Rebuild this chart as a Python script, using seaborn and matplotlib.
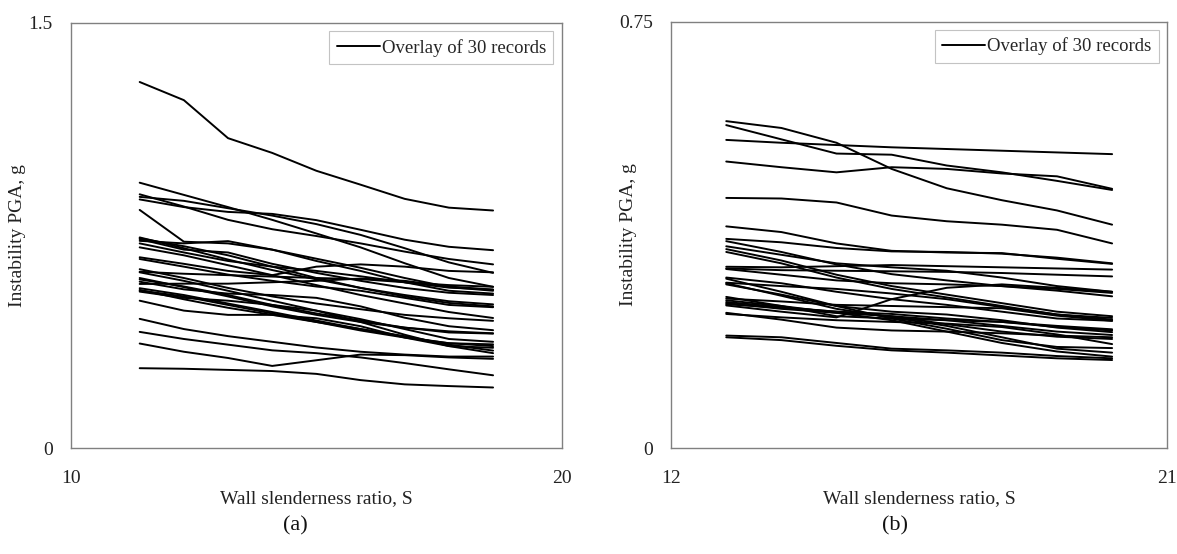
import numpy as np
import pandas as pd
import matplotlib
matplotlib.use("Agg")
import matplotlib.pyplot as plt
from matplotlib.lines import Line2D
import seaborn as sns

# ---------------- data ----------------
s_left = [11.4, 12.3, 13.2, 14.1, 15.0, 15.9, 16.8, 17.7, 18.6]
pga_left = [
    [1.291, 1.227, 1.093, 1.041, 0.978, 0.929, 0.879, 0.848, 0.838],
    [0.936, 0.893, 0.850, 0.805, 0.757, 0.708, 0.652, 0.600, 0.569],
    [0.895, 0.852, 0.805, 0.772, 0.748, 0.722, 0.693, 0.667, 0.648],
    [0.886, 0.872, 0.846, 0.820, 0.790, 0.752, 0.705, 0.655, 0.618],
    [0.877, 0.850, 0.833, 0.826, 0.804, 0.770, 0.735, 0.710, 0.698],
    [0.840, 0.728, 0.722, 0.700, 0.668, 0.636, 0.600, 0.568, 0.555],
    [0.743, 0.705, 0.665, 0.628, 0.595, 0.565, 0.540, 0.518, 0.507],
    [0.737, 0.700, 0.690, 0.650, 0.618, 0.590, 0.565, 0.548, 0.540],
    [0.731, 0.722, 0.730, 0.700, 0.660, 0.625, 0.585, 0.555, 0.545],
    [0.722, 0.690, 0.660, 0.640, 0.625, 0.606, 0.585, 0.566, 0.559],
    [0.708, 0.680, 0.645, 0.610, 0.575, 0.540, 0.510, 0.480, 0.459],
    [0.673, 0.650, 0.625, 0.610, 0.640, 0.648, 0.640, 0.625, 0.620],
    [0.667, 0.640, 0.612, 0.590, 0.570, 0.555, 0.530, 0.505, 0.497],
    [0.631, 0.600, 0.565, 0.535, 0.510, 0.490, 0.470, 0.458, 0.449],
    [0.622, 0.615, 0.610, 0.605, 0.600, 0.596, 0.585, 0.575, 0.569],
    [0.595, 0.570, 0.540, 0.505, 0.475, 0.450, 0.425, 0.408, 0.404],
    [0.587, 0.560, 0.545, 0.540, 0.530, 0.500, 0.460, 0.430, 0.416],
    [0.579, 0.580, 0.580, 0.585, 0.590, 0.598, 0.590, 0.570, 0.559],
    [0.564, 0.540, 0.510, 0.480, 0.450, 0.420, 0.392, 0.370, 0.366],
    [0.558, 0.525, 0.495, 0.470, 0.445, 0.420, 0.395, 0.365, 0.344],
    [0.552, 0.530, 0.520, 0.505, 0.485, 0.455, 0.420, 0.385, 0.375],
    [0.520, 0.485, 0.470, 0.470, 0.458, 0.430, 0.390, 0.360, 0.354],
    [0.456, 0.420, 0.395, 0.375, 0.355, 0.340, 0.330, 0.323, 0.323],
    [0.410, 0.385, 0.365, 0.345, 0.335, 0.320, 0.300, 0.278, 0.257],
    [0.369, 0.340, 0.318, 0.290, 0.310, 0.330, 0.328, 0.320, 0.315],
    [0.282, 0.280, 0.276, 0.272, 0.262, 0.240, 0.225, 0.219, 0.214],
    [0.740, 0.712, 0.680, 0.640, 0.600, 0.565, 0.535, 0.512, 0.500],
    [0.600, 0.568, 0.535, 0.500, 0.470, 0.445, 0.425, 0.412, 0.405],
    [0.556, 0.535, 0.505, 0.475, 0.445, 0.415, 0.390, 0.370, 0.360],
    [0.620, 0.590, 0.555, 0.520, 0.485, 0.445, 0.400, 0.360, 0.335],
]

s_right = [13, 14, 15, 16, 17, 18, 19, 20]
pga_right = [
    [0.575, 0.563, 0.537, 0.491, 0.457, 0.436, 0.418, 0.393],
    [0.568, 0.543, 0.518, 0.516, 0.497, 0.485, 0.470, 0.454],
    [0.542, 0.537, 0.533, 0.529, 0.526, 0.523, 0.520, 0.517],
    [0.504, 0.494, 0.485, 0.494, 0.491, 0.483, 0.478, 0.456],
    [0.440, 0.439, 0.432, 0.409, 0.399, 0.393, 0.384, 0.360],
    [0.390, 0.380, 0.360, 0.347, 0.344, 0.343, 0.333, 0.324],
    [0.368, 0.362, 0.352, 0.346, 0.345, 0.342, 0.335, 0.325],
    [0.364, 0.345, 0.323, 0.306, 0.295, 0.285, 0.277, 0.267],
    [0.355, 0.340, 0.325, 0.318, 0.312, 0.300, 0.285, 0.275],
    [0.350, 0.330, 0.305, 0.285, 0.270, 0.255, 0.240, 0.232],
    [0.345, 0.325, 0.300, 0.280, 0.265, 0.250, 0.235, 0.226],
    [0.319, 0.318, 0.320, 0.322, 0.320, 0.318, 0.316, 0.314],
    [0.316, 0.313, 0.312, 0.311, 0.310, 0.308, 0.305, 0.302],
    [0.300, 0.290, 0.275, 0.262, 0.252, 0.240, 0.228, 0.224],
    [0.291, 0.285, 0.280, 0.272, 0.262, 0.248, 0.235, 0.229],
    [0.288, 0.270, 0.250, 0.240, 0.235, 0.225, 0.212, 0.204],
    [0.266, 0.250, 0.232, 0.228, 0.225, 0.222, 0.213, 0.207],
    [0.263, 0.258, 0.252, 0.250, 0.248, 0.246, 0.233, 0.224],
    [0.251, 0.240, 0.230, 0.262, 0.282, 0.288, 0.282, 0.275],
    [0.255, 0.245, 0.238, 0.232, 0.225, 0.215, 0.205, 0.199],
    [0.253, 0.247, 0.240, 0.232, 0.218, 0.205, 0.196, 0.192],
    [0.238, 0.226, 0.212, 0.207, 0.205, 0.202, 0.198, 0.195],
    [0.236, 0.230, 0.225, 0.222, 0.219, 0.213, 0.200, 0.183],
    [0.298, 0.275, 0.250, 0.228, 0.210, 0.190, 0.178, 0.176],
    [0.290, 0.268, 0.245, 0.230, 0.215, 0.195, 0.175, 0.168],
    [0.260, 0.250, 0.238, 0.225, 0.205, 0.185, 0.170, 0.161],
    [0.198, 0.195, 0.185, 0.175, 0.172, 0.168, 0.162, 0.158],
    [0.195, 0.190, 0.180, 0.172, 0.168, 0.163, 0.158, 0.155],
    [0.315, 0.305, 0.295, 0.290, 0.288, 0.285, 0.280, 0.273],
    [0.257, 0.248, 0.240, 0.236, 0.228, 0.222, 0.215, 0.209],
]

xlabel = "Wall slenderness ratio, S"
ylabel = "Instability PGA, g"
legend_label = "Overlay of 30 records"
panel_labels = ["(a)", "(b)"]


def to_long(svals, rows):
    recs = []
    for i, row in enumerate(rows):
        for s, v in zip(svals, row):
            recs.append({"record": i, "S": s, "PGA": v})
    return pd.DataFrame(recs)


# ---------------- style ----------------
sns.set_theme(style="white")
plt.rcParams["font.family"] = ["Liberation Serif", "DejaVu Serif"]

fig = plt.figure(figsize=(11.77, 5.54), dpi=100)
ax_l = fig.add_axes([0.0603, 0.191, 0.417, 0.768])
ax_r = fig.add_axes([0.5702, 0.191, 0.4215, 0.770])

spine_col = "#808080"
panels = [
    (ax_l, s_left, pga_left, (10, 20), np.arange(10, 20.1, 2), (0, 1.5),
     np.arange(0, 1.51, 0.3), {10: "10", 20: "20"}, {0: "0", 1.5: "1.5"}, -0.092),
    (ax_r, s_right, pga_right, (12, 21), np.arange(12, 21.1, 3), (0, 0.75),
     np.arange(0, 0.76, 0.25), {12: "12", 21: "21"}, {0: "0", 0.75: "0.75"}, -0.068),
]

for ax, sv, rows, xlim, xt, ylim, yt, xlab, ylab, ylab_x in panels:
    df = to_long(sv, rows)
    sns.lineplot(data=df, x="S", y="PGA", units="record", estimator=None,
                 color="black", lw=1.4, ax=ax, legend=False)
    ax.set_xlim(*xlim)
    ax.set_ylim(*ylim)
    ax.set_xticks(xt)
    ax.set_xticklabels([xlab.get(round(v, 2), "") for v in xt])
    ax.set_yticks(yt)
    ax.set_yticklabels([ylab.get(round(v, 2), "") for v in yt])
    for sp in ax.spines.values():
        sp.set_color(spine_col)
        sp.set_linewidth(1.0)
        sp.set_visible(True)
    ax.tick_params(axis="both", which="major", direction="out", length=5,
                   width=1.0, color=spine_col, labelsize=14, labelcolor="#222222")
    ax.tick_params(axis="x", pad=11)
    ax.tick_params(axis="y", pad=8)
    ax.set_xlabel(xlabel, fontsize=14, color="#222222", labelpad=2)
    ax.set_ylabel(ylabel, fontsize=14, color="#222222")
    ax.yaxis.set_label_coords(ylab_x, 0.5)
    handle = Line2D([0], [0], color="black", lw=1.4)
    leg = ax.legend([handle], [legend_label], loc="upper right", fontsize=13.5,
                    frameon=True, fancybox=False, edgecolor="#b5b5b5",
                    handlelength=2.3, handletextpad=0.1, borderaxespad=0.45,
                    borderpad=0.4)
    leg.get_frame().set_linewidth(0.8)
    ax.set_facecolor("white")

fig.text(0.251, 0.05, panel_labels[0], ha="center", va="center", fontsize=16, color="#111111")
fig.text(0.76, 0.05, panel_labels[1], ha="center", va="center", fontsize=16, color="#111111")

fig.savefig("out.png", dpi=100, facecolor="white")
